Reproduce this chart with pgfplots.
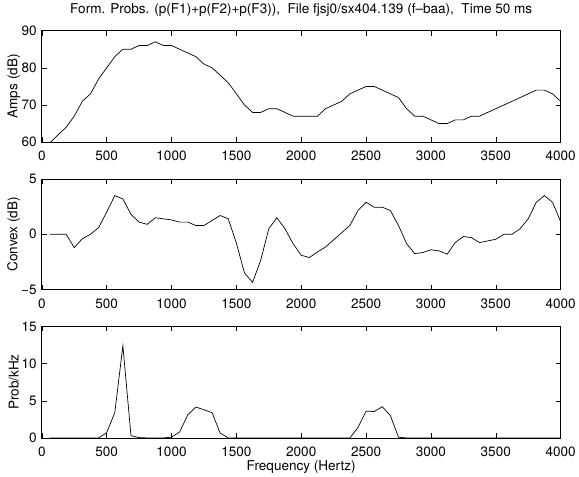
\documentclass[border=0pt]{standalone}
\usepackage{pgfplots}
\pgfplotsset{compat=1.18}
\usepackage{fontspec}
\setmainfont{TeX Gyre Heros}
\pgfplotstableread{
f a
62.5 59.8
125 62
187.5 64
250 67
312.5 71
375 73
437.5 77
500 80
562.5 83
625 85
687.5 85
750 86
812.5 86
875 87
937.5 86
1000 86
1062.5 85
1125 84
1187.5 83
1250 81
1312.5 80
1375 78
1437.5 76
1500 73
1562.5 70
1625 68
1687.5 68
1750 69
1812.5 69
1875 68
1937.5 67
2000 67
2062.5 67
2125 67
2187.5 69
2250 70
2312.5 71
2375 73
2437.5 74
2500 75
2562.5 75
2625 74
2687.5 73
2750 72
2812.5 69
2875 67
2937.5 67
3000 66
3062.5 65
3125 65
3187.5 66
3250 66
3312.5 67
3375 67
3437.5 68
3500 69
3562.5 70
3625 71
3687.5 72
3750 73
3812.5 74
3875 74
3937.5 73
4000 71
}\amps
\pgfplotstableread{
f c
62.5 0
125 0
187.5 0
250 -1.2
312.5 -0.4
375 0
437.5 0.6
500 2.0
562.5 3.5
625 3.2
687.5 1.8
750 1.1
812.5 0.9
875 1.5
937.5 1.4
1000 1.3
1062.5 1.1
1125 1.1
1187.5 0.8
1250 0.8
1312.5 1.25
1375 1.7
1437.5 1.4
1500 -0.8
1562.5 -3.5
1625 -4.35
1687.5 -2.35
1750 0.5
1812.5 1.5
1875 0.5
1937.5 -0.85
2000 -1.9
2062.5 -2.1
2125 -1.6
2187.5 -1.15
2250 -0.5
2312.5 0.15
2375 0.8
2437.5 2.15
2500 2.9
2562.5 2.45
2625 2.45
2687.5 2.15
2750 0.8
2812.5 -0.85
2875 -1.75
2937.5 -1.65
3000 -1.4
3062.5 -1.5
3125 -1.8
3187.5 -0.75
3250 -0.2
3312.5 -0.3
3375 -0.75
3437.5 -0.6
3500 -0.45
3562.5 0
3625 0
3687.5 0.5
3750 1.4
3812.5 2.9
3875 3.5
3937.5 2.9
4000 1.15
}\convex
\pgfplotstableread{
f p
62.5 0
125 0
187.5 0
250 0
312.5 0
375 0
437.5 0
500 0.7
562.5 3.4
625 12.4
687.5 0.3
750 0.05
812.5 0
875 0
937.5 0
1000 0.1
1062.5 0.8
1125 3.1
1187.5 4.15
1250 3.8
1312.5 3.4
1375 0.65
1437.5 0
1500 0
2000 0
2375 0
2437.5 1.4
2500 3.6
2562.5 3.55
2625 4.2
2687.5 3.0
2750 0.1
2812.5 0
3000 0
3500 0
4000 0
}\prob
\newcommand\fs{\fontsize{13.6}{16}\selectfont}
\pgfplotsset{
  panel/.style={
    scale only axis, width=521pt, height=112pt,
    anchor=south west,
    xmin=0, xmax=4000, xtick={0,500,...,4000},
    tick align=inside, major tick length=5pt,
    tick style={black, line width=0.5pt},
    axis line style={black, line width=0.7pt},
    /pgf/number format/assume math mode=true,
    /pgf/number format/1000 sep={},
    scaled ticks=false,
    ticklabel style={font=\fs},
    xticklabel style={yshift=-5.5pt},
    yticklabel style={xshift=-1.7pt},
    label style={font=\fs},
    ylabel style={at={(axis description cs:-0.054,0.5)}, anchor=center},
    clip=true,
  },
  curve/.style={black, line width=0.7pt, no markers},
}
\begin{document}
\begin{tikzpicture}
\path (0pt,0pt) rectangle (579pt,472pt);
\begin{axis}[panel, at={(42pt,335pt)},
  ymin=60, ymax=90, ytick={60,70,80,90},
  ylabel={Amps (dB)},
  title={Form. Probs. (p(F1)+p(F2)+p(F3)),\ \ File fjsj0/sx404.139 (f–baa),\ \ Time 50 ms},
  title style={font=\fs, at={(axis description cs:0.5,1)}, anchor=center, yshift=15pt}]
\addplot[curve] table[x=f,y=a] {\amps};
\end{axis}
\begin{axis}[panel, at={(42pt,187pt)}, height=111pt,
  ymin=-5, ymax=5, ytick={-5,0,5}, yticklabels={−5,0,5},
  ylabel={Convex (dB)}]
\addplot[curve] table[x=f,y=c] {\convex};
\end{axis}
\begin{axis}[panel, at={(42pt,38pt)},
  ymin=0, ymax=15, ytick={0,5,10,15},
  ylabel={Prob/kHz}, xlabel={Frequency (Hertz)},
  xlabel style={at={(axis description cs:0.5,0)}, anchor=center, yshift=-29pt}]
\addplot[curve] table[x=f,y=p] {\prob};
\end{axis}
\end{tikzpicture}
\end{document}
